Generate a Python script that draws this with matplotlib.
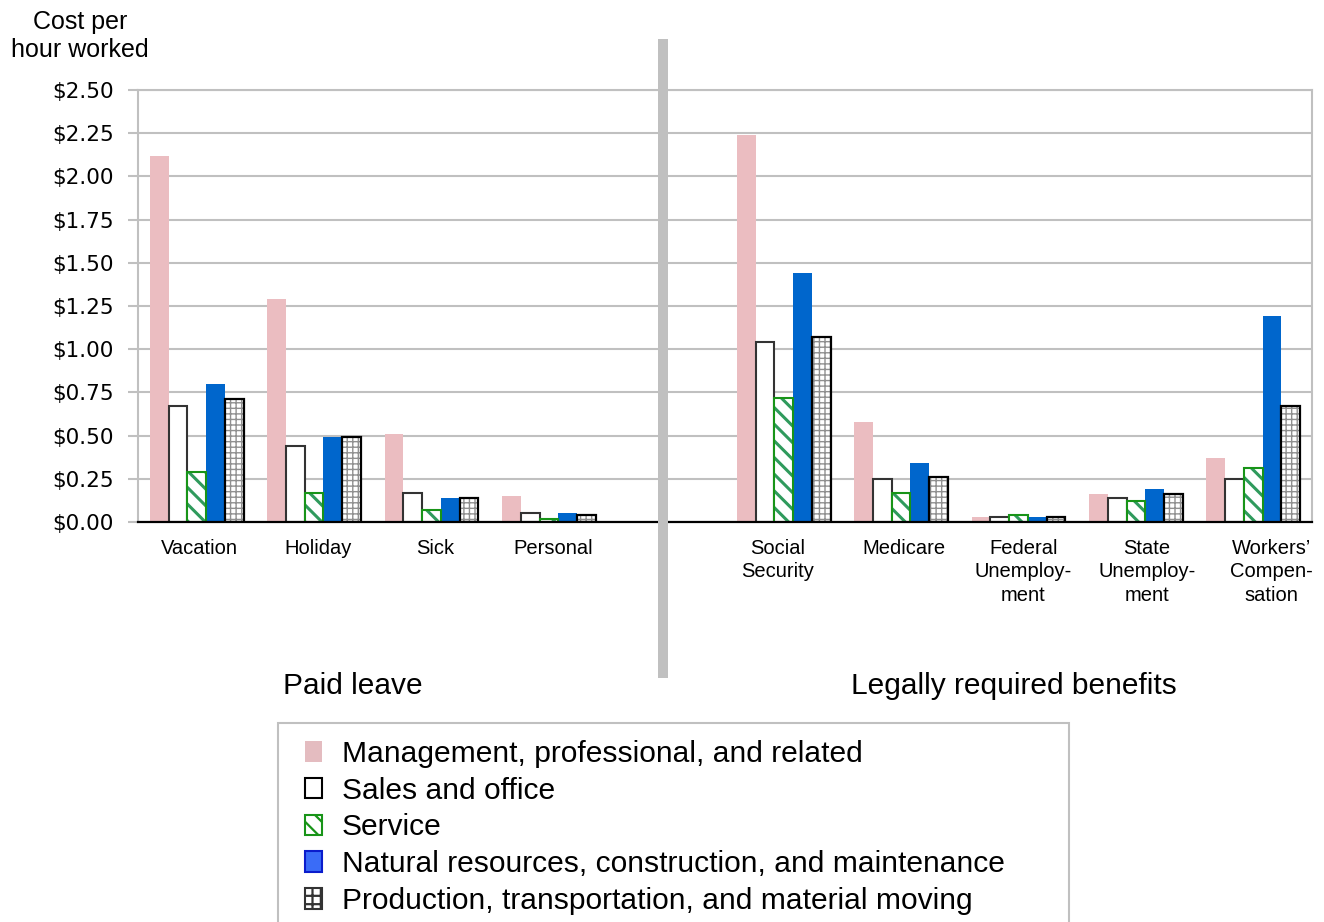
import numpy as np
import matplotlib
matplotlib.use("Agg")
import matplotlib.pyplot as plt
from matplotlib.patches import Patch, Rectangle
from matplotlib.lines import Line2D
import matplotlib.transforms as mtransforms

# ---------------- data ----------------
paid_leave_cats = ["Vacation", "Holiday", "Sick", "Personal"]
legal_cats = ["Social\nSecurity", "Medicare", "Federal\nUnemploy-\nment",
              "State\nUnemploy-\nment", "Workers\u2019\nCompen-\nsation"]

series_names = ["Management, professional, and related",
                "Sales and office",
                "Service",
                "Natural resources, construction, and maintenance",
                "Production, transportation, and material moving"]

# paid leave values (Vacation, Holiday, Sick, Personal)
paid_mgmt = [2.12, 1.29, 0.51, 0.15]
paid_sales = [0.67, 0.44, 0.17, 0.05]
paid_service = [0.29, 0.17, 0.07, 0.02]
paid_natres = [0.80, 0.49, 0.14, 0.05]
paid_prod = [0.71, 0.49, 0.14, 0.04]

# legally required (SS, Medicare, Fed unemp, State unemp, Workers comp)
legal_mgmt = [2.24, 0.58, 0.03, 0.16, 0.37]
legal_sales = [1.04, 0.25, 0.03, 0.14, 0.25]
legal_service = [0.72, 0.17, 0.04, 0.12, 0.31]
legal_natres = [1.44, 0.34, 0.03, 0.19, 1.19]
legal_prod = [1.07, 0.26, 0.03, 0.16, 0.67]

yticks = [0.0, 0.25, 0.5, 0.75, 1.0, 1.25, 1.5, 1.75, 2.0, 2.25, 2.5]

section_titles = ["Paid leave", "Legally required benefits"]
y_title = "Cost per\nhour worked"

# ---------------- styling ----------------
FONT = "Liberation Sans"
plt.rcParams["font.family"] = [FONT, "DejaVu Sans"]

W, H = 1324, 922
fig = plt.figure(figsize=(W / 100, H / 100), dpi=100)
ax = fig.add_axes([138 / W, 1 - 522 / H, 1174 / W, 432 / H])

n_left = len(paid_leave_cats)
pos_left = np.arange(n_left)
pos_right = np.arange(len(legal_cats)) + n_left + 1
positions = np.concatenate([pos_left, pos_right])
all_labels = paid_leave_cats + legal_cats

data = [paid_mgmt + legal_mgmt,
        paid_sales + legal_sales,
        paid_service + legal_service,
        paid_natres + legal_natres,
        paid_prod + legal_prod]

bw = 0.16
offsets = [-2, -1, 0, 1, 2]

pink = "#ebbdc1"
blue = "#0066cc"
green_edge = "#189418"
green_hatch = "#2f9a5c"
grid_col = "#c0c0c0"


def set_hlw(bars, lw):
    for b in bars:
        if hasattr(b, "set_hatch_linewidth"):
            b.set_hatch_linewidth(lw)


# Management
ax.bar(positions + offsets[0] * bw, data[0], bw, color=pink, linewidth=0, zorder=3)
# Sales
ax.bar(positions + offsets[1] * bw, data[1], bw, facecolor="white",
       edgecolor="#333333", linewidth=1.5, zorder=3)
# Service (hatch layer + outline)
plt.rcParams["hatch.linewidth"] = 2.2
b = ax.bar(positions + offsets[2] * bw, data[2], bw, facecolor="white",
           edgecolor=green_hatch, linewidth=0, hatch="\\\\", zorder=3)
set_hlw(b, 2.2)
ax.bar(positions + offsets[2] * bw, data[2], bw, fill=False,
       edgecolor=green_edge, linewidth=1.5, zorder=3.1)
# Natural resources
ax.bar(positions + offsets[3] * bw, data[3], bw, color=blue, linewidth=0, zorder=3)
# Production (hatch layer + outline)
plt.rcParams["hatch.linewidth"] = 1.0
b = ax.bar(positions + offsets[4] * bw, data[4], bw, facecolor="white",
           edgecolor="#909090", linewidth=0, hatch="+++", zorder=3)
set_hlw(b, 1.0)
ax.bar(positions + offsets[4] * bw, data[4], bw, fill=False,
       edgecolor="black", linewidth=1.6, zorder=3.1)
plt.rcParams["hatch.linewidth"] = 1.6

ax.set_xlim(-0.5, n_left + len(legal_cats) + 0.5)
ax.set_ylim(0, 2.5)

ax.set_yticks(yticks)
ax.set_yticklabels(["${:.2f}".format(v) for v in yticks],
                   fontfamily="DejaVu Sans", fontsize=15.5)
ax.tick_params(axis="y", length=7.2, width=1.5, color=grid_col, pad=10)
ax.set_xticks(positions)
ax.set_xticklabels(all_labels, fontsize=14.5, linespacing=1.32)
ax.tick_params(axis="x", length=0, pad=12)

# small horizontal offsets of the category labels (pixels)
label_shift_px = [3, 4, 4, 4, -6, 3, 5, 11, 18]
for lab, dx in zip(ax.get_xticklabels(), label_shift_px):
    lab.set_multialignment("center")
    lab.set_transform(lab.get_transform() +
                      mtransforms.ScaledTranslation(dx / 100, 0, fig.dpi_scale_trans))

ax.yaxis.grid(True, color=grid_col, linewidth=1.5)
ax.set_axisbelow(True)
for s in ["left", "right", "top"]:
    ax.spines[s].set_color(grid_col)
    ax.spines[s].set_linewidth(1.5)
ax.spines["bottom"].set_color("black")
ax.spines["bottom"].set_linewidth(1.6)
ax.spines["bottom"].set_zorder(4)

# vertical divider
fig.add_artist(Line2D([663 / W, 663 / W], [1 - 39 / H, 1 - 678 / H],
                      transform=fig.transFigure, color=grid_col, lw=7.2,
                      solid_capstyle="butt", zorder=10))

# titles
fig.text(80 / W, 1 - 36 / H, y_title, ha="center", va="center",
         fontsize=18, linespacing=1.2)
fig.text(283 / W, 1 - 686 / H, section_titles[0], ha="left", va="center", fontsize=21.5)
fig.text(851 / W, 1 - 686 / H, section_titles[1], ha="left", va="center", fontsize=21.5)

# legend
handles = [
    Patch(facecolor="#e4bcc0", edgecolor="none"),
    Patch(facecolor="white", edgecolor="black", linewidth=1.5),
    Patch(facecolor="white", edgecolor=green_edge, hatch="\\\\", linewidth=1.5),
    Patch(facecolor="#3a6cf7", edgecolor="#0a1ccc", linewidth=1.5),
    Patch(facecolor="white", edgecolor="#333333", hatch="++", linewidth=1.5),
]
leg = fig.legend(handles, series_names, loc="upper left",
                 bbox_to_anchor=(305 / W, 1 - 740 / H),
                 frameon=False, fontsize=21.6, handlelength=0.57, handleheight=0.68,
                 handletextpad=0.66, labelspacing=0.29, borderpad=0, borderaxespad=0)
fig.add_artist(Rectangle((278 / W, -0.05), (1069 - 278) / W, (1 - 723 / H) + 0.05,
                         transform=fig.transFigure, fill=False,
                         edgecolor=grid_col, linewidth=1.5, zorder=0))

fig.savefig("out.png", dpi=100)
